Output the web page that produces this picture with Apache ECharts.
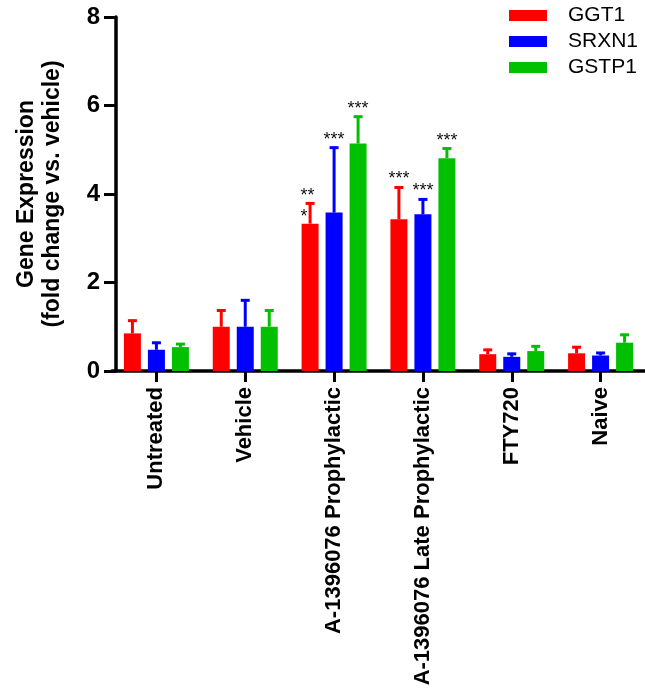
<!DOCTYPE html>
<html>
<head>
<meta charset="utf-8">
<script src="https://cdn.jsdelivr.net/npm/echarts@6/dist/echarts.min.js"></script>
<style>
html,body{margin:0;padding:0;background:#fff;}
#chart{width:645px;height:691px;}
</style>
</head>
<body>
<div id="chart"></div>
<script>
const categories = ['Untreated', 'Vehicle', 'A-1396076 Prophylactic', 'A-1396076 Late Prophylactic', 'FTY720', 'Naive'];
const seriesNames = ['GGT1', 'SRXN1', 'GSTP1'];
const GGT1 = [0.85, 1.00, 3.33, 3.43, 0.38, 0.40];
const GGT1_err = [0.31, 0.39, 0.48, 0.74, 0.12, 0.16];
const SRXN1 = [0.48, 1.00, 3.58, 3.54, 0.32, 0.35];
const SRXN1_err = [0.18, 0.62, 1.49, 0.36, 0.09, 0.08];
const GSTP1 = [0.54, 1.00, 5.14, 4.81, 0.45, 0.64];
const GSTP1_err = [0.09, 0.39, 0.63, 0.24, 0.13, 0.20];
const GGT1_sig = ['', '', '**\n*', '***', '', ''];
const SRXN1_sig = ['', '', '***', '***', '', ''];
const GSTP1_sig = ['', '', '***', '***', '', ''];
const yTicks = [0, 2, 4, 6, 8];

const colors = ['#FF0000', '#0000FF', '#00C000'];
const means = [GGT1, SRXN1, GSTP1];
const errs = [GGT1_err, SRXN1_err, GSTP1_err];
const sigs = [GGT1_sig, SRXN1_sig, GSTP1_sig];
const FONT = '"Liberation Sans", Arial, Helvetica, sans-serif';
const BAR_W = 17, BAR_SPACE = 7;

const chart = echarts.init(document.getElementById('chart'));

function errRender(si) {
  return function (params, api) {
    const cat = api.value(0), mean = api.value(1), err = api.value(2);
    const base = api.coord([cat, mean]);
    const top = api.coord([cat, mean + err]);
    const x = base[0] + (si - 1) * (BAR_W + BAR_SPACE);
    const children = [
      {type: 'line', shape: {x1: x, y1: base[1], x2: x, y2: top[1]},
       style: {stroke: colors[si], lineWidth: 3}},
      {type: 'line', shape: {x1: x - 4.5, y1: top[1] + 1, x2: x + 4.5, y2: top[1] + 1},
       style: {stroke: colors[si], lineWidth: 3}}
    ];
    const s = sigs[si][params.dataIndex];
    if (s) {
      const multi = s.indexOf('\n') >= 0;
      children.push({
        type: 'text',
        style: {
          text: s,
          x: multi ? x - BAR_W / 2 - 1 : x,
          y: multi ? top[1] + 4.5 : top[1] - 7,
          align: multi ? 'left' : 'center',
          verticalAlign: 'middle',
          fontSize: 18, fontFamily: FONT, lineHeight: 21,
          fill: '#111'
        }
      });
    }
    return {type: 'group', children: children};
  };
}

const series = [];
seriesNames.forEach((n, si) => {
  series.push({
    name: n, type: 'bar', data: means[si], barWidth: BAR_W, barGap: (BAR_SPACE / BAR_W * 100) + '%',
    itemStyle: {color: colors[si]}, z: 2
  });
});
seriesNames.forEach((n, si) => {
  series.push({
    name: n + ' err', type: 'custom', renderItem: errRender(si), z: 3,
    data: means[si].map((m, i) => [i, m, errs[si][i]]),
    encode: {x: 0, y: [1, 2]}
  });
});

chart.setOption({
  animation: false,
  textStyle: {fontFamily: FONT},
  legend: {
    data: seriesNames, orient: 'vertical', left: 509, top: 5, padding: 0,
    itemWidth: 38, itemHeight: 11, itemGap: 5, icon: 'rect',
    textStyle: {fontSize: 21, color: '#000', fontFamily: FONT, padding: [0, 0, 0, 16]}
  },
  grid: {left: 112, right: -3, top: 17, bottom: 320, containLabel: false},
  xAxis: {
    type: 'category', data: categories,
    axisLine: {lineStyle: {color: '#000', width: 3.5}},
    axisTick: {show: true, alignWithLabel: true, length: 11, lineStyle: {width: 3, color: '#000'}},
    axisLabel: {rotate: 90, interval: 0, margin: 16, fontSize: 22, fontWeight: 'bold', color: '#000', fontFamily: FONT}
  },
  yAxis: {
    type: 'value', min: yTicks[0], max: yTicks[yTicks.length - 1], interval: 2, offset: -4,
    name: 'Gene Expression\n(fold change vs. vehicle)', nameLocation: 'middle', nameGap: 50,
    nameTextStyle: {fontSize: 23, fontWeight: 'bold', color: '#000', lineHeight: 26, fontFamily: FONT},
    axisLine: {show: true, lineStyle: {color: '#000', width: 3.5}},
    axisTick: {show: true, length: 12, lineStyle: {width: 3, color: '#000'}},
    splitLine: {show: false},
    axisLabel: {margin: 16, fontSize: 24, fontWeight: 'bold', color: '#000', fontFamily: FONT}
  },
  series: series
});
</script>
</body>
</html>
